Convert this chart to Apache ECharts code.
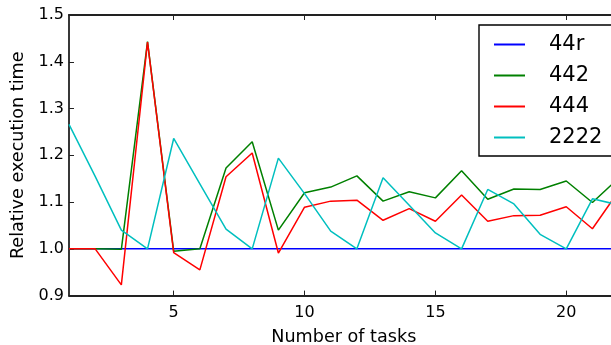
<!DOCTYPE html>
<html>
<head>
<meta charset="utf-8">
<script src="https://cdn.jsdelivr.net/npm/echarts@6/dist/echarts.min.js"></script>
<style>
  html, body { margin: 0; padding: 0; background: #fff; }
  #chart { width: 611px; height: 345px; }
</style>
</head>
<body>
<div id="chart"></div>
<script>
// Number of tasks on the x axis
const tasks = [1, 2, 3, 4, 5, 6, 7, 8, 9, 10, 11, 12, 13, 14, 15, 16, 17, 18, 19, 20, 21, 22];

// Relative execution time per configuration
const s44r = [1.0, 1.0, 1.0, 1.0, 1.0, 1.0, 1.0, 1.0, 1.0, 1.0, 1.0, 1.0, 1.0, 1.0, 1.0, 1.0, 1.0, 1.0, 1.0, 1.0, 1.0, 1.0];
const s442 = [1.0, 1.0, 0.999, 1.443, 0.995, 1.0, 1.173, 1.229, 1.040, 1.120, 1.132, 1.156, 1.102, 1.122, 1.109, 1.167, 1.106, 1.128, 1.127, 1.145, 1.099, 1.151];
const s444 = [1.0, 1.0, 0.923, 1.442, 0.992, 0.955, 1.154, 1.205, 0.991, 1.089, 1.102, 1.104, 1.061, 1.086, 1.059, 1.115, 1.059, 1.071, 1.072, 1.090, 1.043, 1.123];
const s2222 = [1.266, 1.155, 1.040, 1.0, 1.236, 1.139, 1.042, 1.0, 1.194, 1.118, 1.038, 1.0, 1.152, 1.093, 1.034, 1.0, 1.127, 1.096, 1.031, 1.0, 1.107, 1.094];

const seriesNames = ['44r', '442', '444', '2222'];
const seriesValues = [s44r, s442, s444, s2222];
const seriesColors = ['#0000ff', '#008000', '#ff0000', '#00bfbf'];

const xTicks = [5, 10, 15, 20];

const FONT = 'DejaVu Sans';

const chart = echarts.init(document.getElementById('chart'), null, { renderer: 'canvas' });

const frameLine = { show: true, onZero: false, lineStyle: { color: '#222', width: 1.8 } };
const innerTick = { show: true, inside: true, length: 5, lineStyle: { color: '#222', width: 1 } };

chart.setOption({
  animation: false,
  backgroundColor: '#fff',
  textStyle: { fontFamily: FONT },
  // the plot frame runs past the right edge of the canvas, so keep the grid exactly as given
  grid: { left: 69, top: 15, width: 549.6, height: 280.6, containLabel: false, outerBoundsMode: 'none' },
  legend: {
    data: seriesNames,
    orient: 'vertical',
    left: 479,
    top: 25,
    width: 129,
    padding: [8, 14, 7, 15],
    backgroundColor: '#fff',
    borderColor: '#000',
    borderWidth: 1.4,
    borderRadius: 0,
    icon: 'rect',
    itemWidth: 31,
    itemHeight: 2,
    itemGap: 8,
    textStyle: { fontFamily: FONT, fontSize: 21, color: '#000', padding: [0, 0, 0, 19], lineHeight: 23 }
  },
  xAxis: [
    {
      type: 'value', min: 1, max: 22,
      name: 'Number of tasks', nameLocation: 'middle', nameGap: 33,
      nameTextStyle: { fontFamily: FONT, fontSize: 17.6, color: '#000' },
      axisLine: frameLine,
      axisTick: Object.assign({}, innerTick, { customValues: xTicks }),
      axisLabel: { customValues: xTicks, color: '#000', fontFamily: FONT, fontSize: 16, margin: 9 },
      splitLine: { show: false }
    },
    {
      type: 'value', min: 1, max: 22, position: 'top',
      axisLine: frameLine,
      axisTick: Object.assign({}, innerTick, { customValues: xTicks }),
      axisLabel: { show: false, customValues: xTicks },
      splitLine: { show: false }
    }
  ],
  yAxis: [
    {
      type: 'value', min: 0.9, max: 1.5, interval: 0.1,
      name: 'Relative execution time', nameLocation: 'middle', nameGap: 41, nameRotate: 90,
      nameTextStyle: { fontFamily: FONT, fontSize: 17.6, color: '#000' },
      axisLine: frameLine,
      axisTick: innerTick,
      axisLabel: { color: '#000', fontFamily: FONT, fontSize: 16, margin: 5, formatter: v => v.toFixed(1) },
      splitLine: { show: false }
    }
  ],
  series: seriesNames.map((name, i) => ({
    name: name,
    type: 'line',
    xAxisIndex: 0,
    yAxisIndex: 0,
    symbol: 'none',
    clip: true,
    color: seriesColors[i],
    lineStyle: { color: seriesColors[i], width: 1.5 },
    data: tasks.map((t, k) => [t, seriesValues[i][k]])
  }))
});
</script>
</body>
</html>
